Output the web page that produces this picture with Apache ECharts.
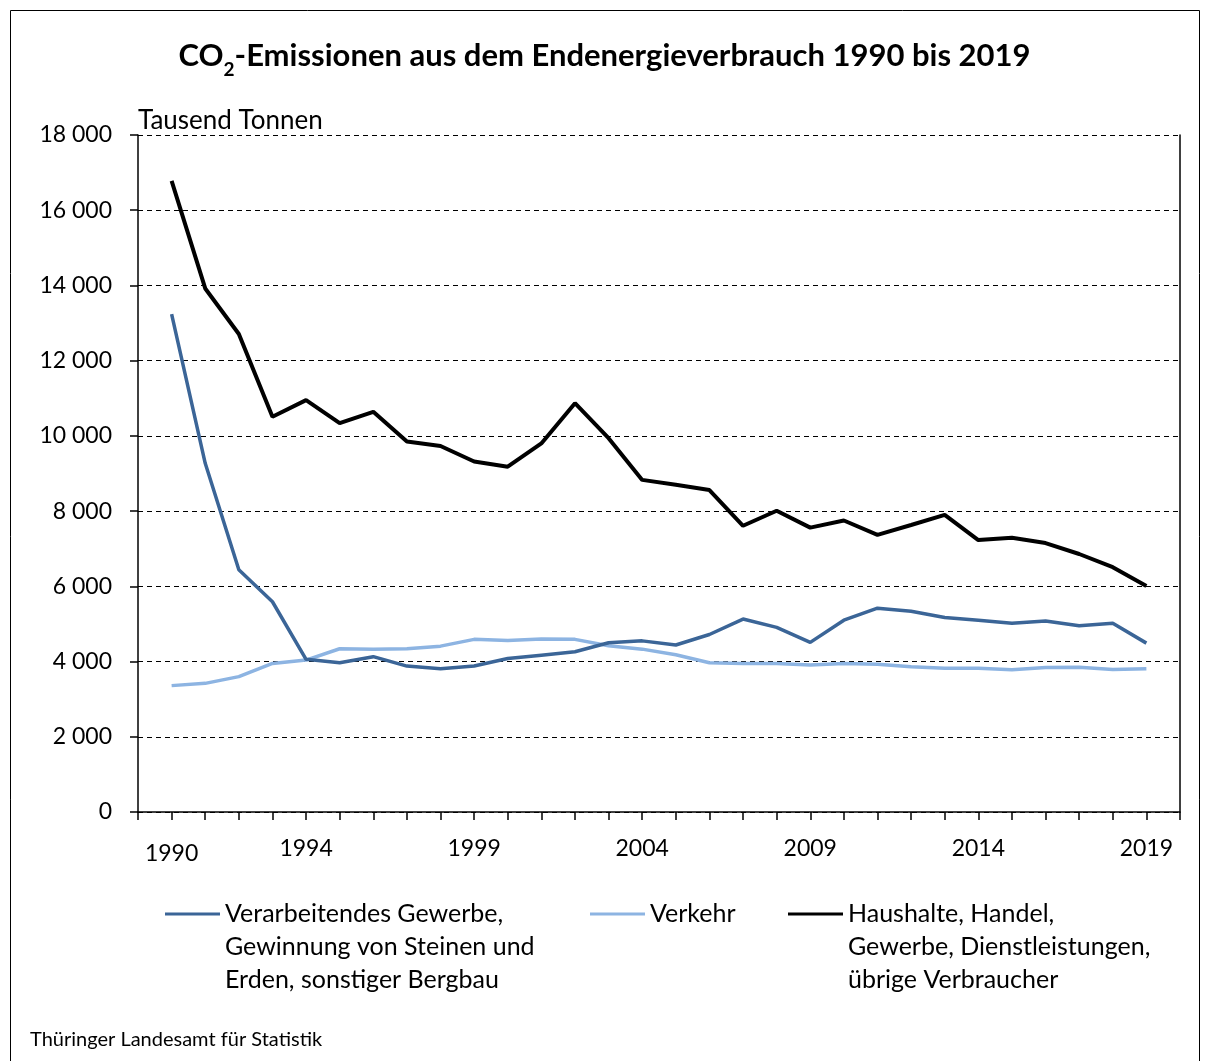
<!DOCTYPE html>
<html>
<head>
<meta charset="utf-8">
<script src="https://cdn.jsdelivr.net/npm/echarts@6/dist/echarts.min.js"></script>
<style>
	html, body { margin: 0; padding: 0; background: #fff; }
	#chart { width: 1209px; height: 1061px; }
</style>
</head>
<body>
<div id="chart"></div>
<script>
const FONT = 'Lato, "Noto Sans", sans-serif';

const years = [];
for (let y = 1990; y <= 2019; y++) years.push(y);

const labelYears = [1990, 1994, 1999, 2004, 2009, 2014, 2019];

const gewerbe = [13240, 9270, 6440, 5590, 4060, 3970, 4130, 3880, 3810, 3880,
	4080, 4170, 4260, 4500, 4550, 4440, 4720, 5130, 4910, 4510,
	5100, 5420, 5340, 5170, 5100, 5020, 5080, 4950, 5020, 4490];

const verkehr = [3360, 3420, 3600, 3950, 4040, 4340, 4330, 4340, 4410, 4590,
	4560, 4600, 4590, 4420, 4330, 4180, 3970, 3950, 3950, 3910,
	3950, 3930, 3860, 3820, 3820, 3780, 3840, 3850, 3790, 3810];

const haushalte = [16780, 13920, 12710, 10510, 10950, 10340, 10640, 9850, 9730, 9320,
	9180, 9800, 10870, 9940, 8830, 8700, 8560, 7610, 8010, 7560,
	7750, 7370, 7630, 7900, 7230, 7290, 7150, 6860, 6510, 6010];

const seriesNames = [
	'Verarbeitendes Gewerbe,\nGewinnung von Steinen und\nErden, sonstiger Bergbau',
	'Verkehr',
	'Haushalte, Handel,\nGewerbe, Dienstleistungen,\nübrige Verbraucher'
];
const seriesColors = ['#3b6597', '#8db4e2', '#000000'];

const LEGEND_LINE = 33;
const LEGEND_ICON_Y = 914;

function pairs(values) {
	return values.map((v, i) => [years[i], v]);
}

function formatThousands(v) {
	return String(v).replace(/\B(?=(\d{3})+(?!\d))/g, ' ');
}

const chart = echarts.init(document.getElementById('chart'));

// legend text is centred on the icon, so blank lines are put in front
// to keep the icon level with the first line of a multi-line name
function legendFor(name, left) {
	const lines = name.split('\n').length;
	const blank = '\n'.repeat(lines - 1);
	const height = (2 * lines - 1) * LEGEND_LINE;
	return {
		left: left,
		top: LEGEND_ICON_Y - height / 2,
		padding: 0,
		data: [name],
		icon: 'rect',
		itemWidth: 55,
		itemHeight: 3,
		itemGap: 0,
		formatter: (n) => blank + n,
		textStyle: {
			fontFamily: FONT,
			fontSize: 25,
			color: '#000',
			lineHeight: LEGEND_LINE
		}
	};
}

chart.setOption({
	animation: false,
	backgroundColor: '#fff',
	textStyle: { fontFamily: FONT },
	title: [{
		text: 'CO{sub|2}-Emissionen aus dem Endenergieverbrauch 1990 bis 2019',
		left: 'center',
		top: 32,
		padding: 0,
		textStyle: {
			fontFamily: FONT,
			fontSize: 31,
			fontWeight: 'bold',
			color: '#000',
			rich: {
				sub: { fontFamily: FONT, fontSize: 19, fontWeight: 'bold', color: '#000', padding: [28, 0, 0, 0] }
			}
		}
	}, {
		text: 'Thüringer Landesamt für Statistik',
		left: 30,
		top: 1030,
		padding: 0,
		textStyle: { fontFamily: FONT, fontSize: 20, fontWeight: 'normal', color: '#000' }
	}],
	graphic: [{
		type: 'rect',
		shape: { x: 10.5, y: 10.5, width: 1189, height: 1080 },
		style: { fill: 'none', stroke: '#000', lineWidth: 1 },
		silent: true
	}],
	legend: [
		legendFor(seriesNames[0], 165),
		legendFor(seriesNames[1], 590),
		legendFor(seriesNames[2], 788)
	],
	grid: { left: 138, top: 135, right: 29, bottom: 249 },
	xAxis: {
		type: 'value',
		min: 1989,
		max: 2020,
		interval: 1,
		axisLine: { lineStyle: { color: '#000', width: 1.5 } },
		axisTick: { show: true, length: 8, lineStyle: { color: '#000', width: 1.5 } },
		splitLine: { show: false },
		axisLabel: {
			margin: 25,
			fontFamily: FONT,
			fontSize: 23,
			color: '#000',
			showMinLabel: true,
			showMaxLabel: true,
			formatter: (v) => {
				if (v === 1990) return '{low|1990}';
				return labelYears.includes(v) ? String(v) : '';
			},
			rich: { low: { fontFamily: FONT, fontSize: 23, color: '#000', padding: [5, 0, 0, 0] } }
		}
	},
	yAxis: [{
		type: 'value',
		min: 0,
		max: 18000,
		interval: 2000,
		name: 'Tausend Tonnen',
		nameLocation: 'end',
		nameGap: 1,
		nameTextStyle: { fontFamily: FONT, fontSize: 26, color: '#000', align: 'left', verticalAlign: 'bottom' },
		axisLine: { show: true, lineStyle: { color: '#000', width: 1.5 } },
		axisTick: { show: true, length: 8, lineStyle: { color: '#000', width: 1.5 } },
		splitLine: { show: true, lineStyle: { color: '#000', type: [5, 4], width: 1 } },
		axisLabel: {
			margin: 26,
			fontFamily: FONT,
			fontSize: 23,
			color: '#000',
			formatter: formatThousands
		}
	}, {
		// right border of the plot area
		type: 'value',
		position: 'right',
		min: 0,
		max: 18000,
		axisLine: { show: true, lineStyle: { color: '#000', width: 1.5 } },
		axisTick: { show: false },
		axisLabel: { show: false },
		splitLine: { show: false }
	}],
	series: [gewerbe, verkehr, haushalte].map((values, i) => ({
		name: seriesNames[i],
		type: 'line',
		data: pairs(values),
		symbol: 'none',
		color: seriesColors[i],
		lineStyle: { color: seriesColors[i], width: i === 2 ? 4 : 3.5 },
		z: 5 - i
	}))
});
</script>
</body>
</html>
